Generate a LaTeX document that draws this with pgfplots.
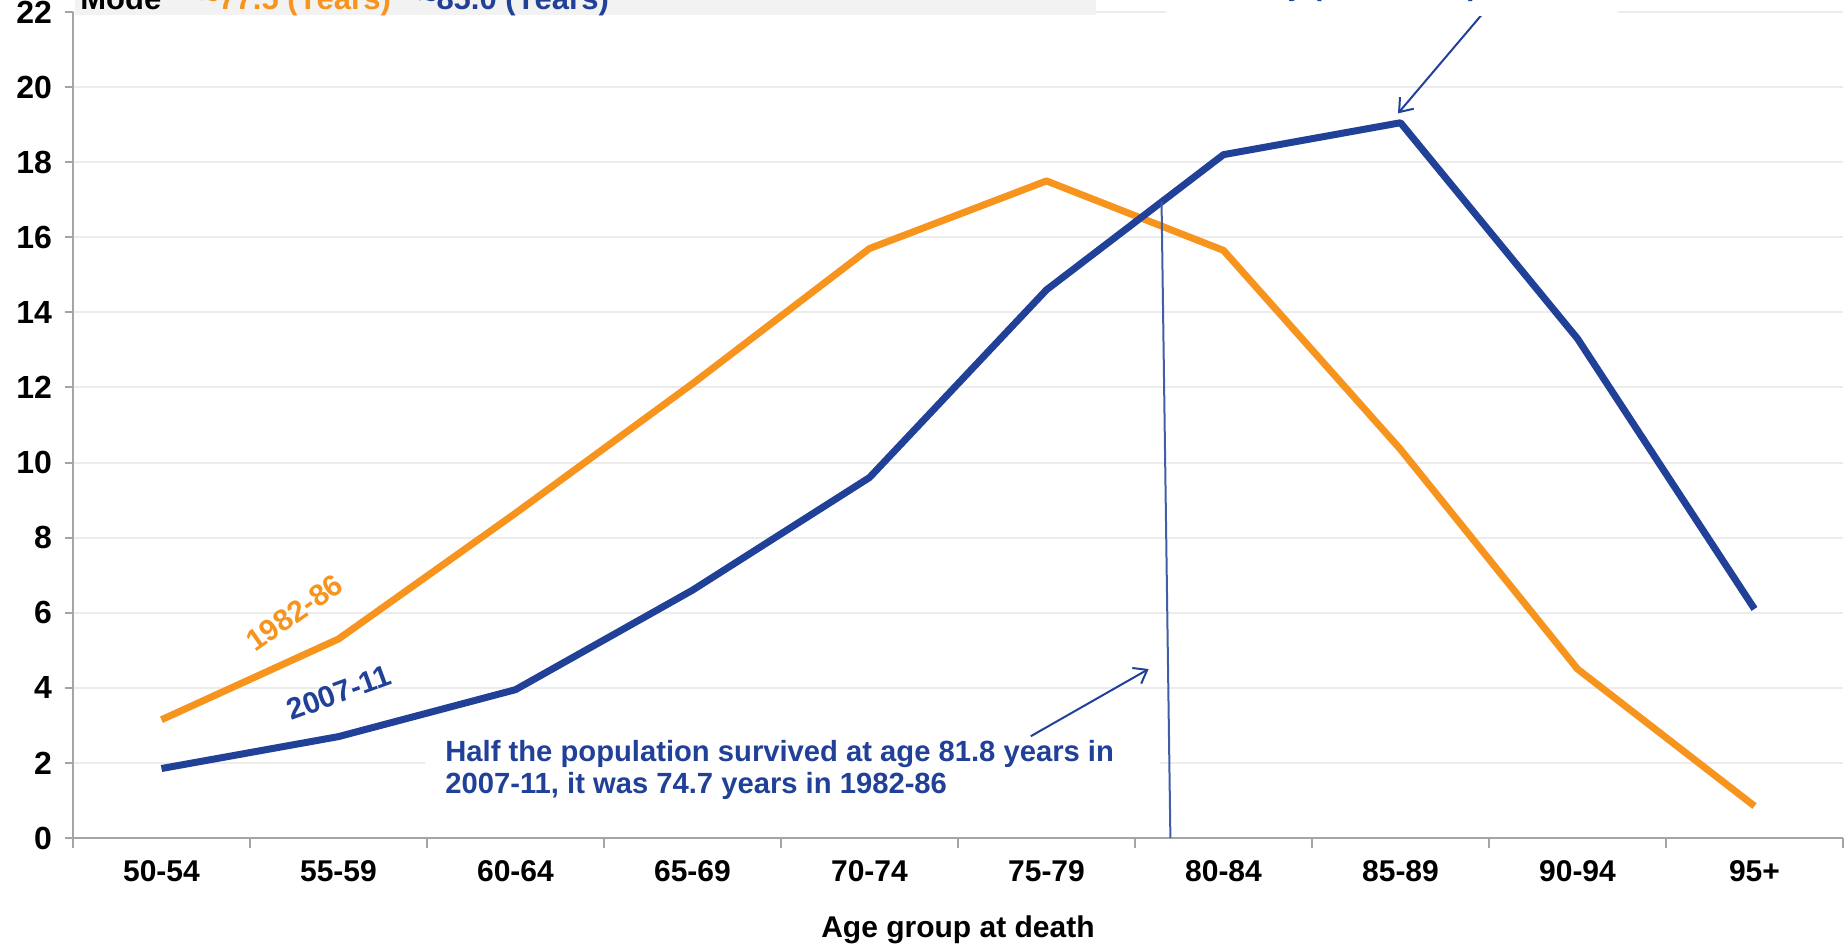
\documentclass[border=0pt]{standalone}
\usepackage{pgfplots}
\pgfplotsset{compat=1.18}
\usepackage{fontspec}
\setmainfont{Liberation Sans}
\usetikzlibrary{arrows.meta}
\definecolor{orng}{RGB}{247,148,30}
\definecolor{blu}{RGB}{33,64,152}
\definecolor{gridc}{RGB}{236,236,236}
\definecolor{axc}{RGB}{165,165,165}
\definecolor{boxc}{RGB}{242,242,242}
\begin{document}
\begin{tikzpicture}[x=1pt,y=1pt]
\begin{axis}[
  at={(36.5pt,53.5pt)}, anchor=south west,
  scale only axis, width=885pt, height=413pt,
  xmin=-0.5, xmax=9.5, ymin=0, ymax=22,
  axis x line*=bottom, axis y line*=left,
  ytick={0,2,...,22},
  xtick={0,...,9},
  xticklabels={50-54,55-59,60-64,65-69,70-74,75-79,80-84,85-89,90-94,95+},
  minor xtick={-0.5,0.5,...,9.5},
  major x tick style={draw=none},
  tick align=outside,
  minor tick length=5pt, major tick length=4pt,
  ymajorgrids, grid style={gridc, line width=1pt},
  axis line style={axc, line width=1pt},
  tick style={axc, line width=1pt},
  /pgf/number format/assume math mode=true,
  ticklabel style={text=black},
  xticklabel style={font=\fontsize{15}{16}\selectfont\bfseries, anchor=base, yshift=-18pt},
  yticklabel style={font=\fontsize{16}{17}\selectfont\bfseries, anchor=east, xshift=-3pt},
  xlabel={Age group at death},
  xlabel style={font=\fontsize{15}{17}\selectfont\bfseries, at={(axis description cs:0.5,0)}, anchor=base, yshift=-50pt},
  clip=false,
]
% white box behind annotation text
\fill[white] (axis cs:1.49,0.15) rectangle (axis cs:5.64,2.55);
\addplot[orng, line width=3.5pt, line join=round] coordinates {
 (0,3.15) (1,5.3) (2,8.65) (3,12.1) (4,15.7) (5,17.5) (6,15.65) (7,10.35) (8,4.5) (9,0.85)};
\addplot[blu, line width=3.5pt, line join=round] coordinates {
 (0,1.85) (1,2.7) (2,3.95) (3,6.6) (4,9.6) (5,14.6) (6,18.2) (7,19.05) (8,13.3) (9,6.1)};
\draw[blu!85!white, line width=1pt] (axis cs:5.65,16.95) -- (axis cs:5.70,0);
\draw[blu, line width=1pt, -{Straight Barb[length=6pt,width=9pt]}] (axis cs:4.911,2.71) -- (axis cs:5.577,4.50);
\draw[blu, line width=1pt, -{Straight Barb[length=6pt,width=9pt]}] (axis cs:7.49,22.1) -- (axis cs:6.986,19.3);
\node[orng, font=\fontsize{15}{16}\selectfont\bfseries, rotate=35] at (axis cs:0.751,6.0) {1982-86};
\node[blu, font=\fontsize{15}{16}\selectfont\bfseries, rotate=20] at (axis cs:1.003,3.87) {2007-11};
\end{axis}
% annotation text
\node[blu, font=\fontsize{14.6}{16}\selectfont\bfseries, align=left, anchor=west, inner sep=0pt] at (222.5,87.5)
 {Half the population survived at age 81.8 years in\\2007-11, it was 74.7 years in 1982-86};
% top-left partial table row
\fill[boxc] (37.5,465) rectangle (548,480);
\node[black, font=\fontsize{15.5}{16}\selectfont\bfseries, anchor=base west, inner sep=0pt] at (40,467.5) {Mode};
\node[orng, font=\fontsize{15.5}{16}\selectfont\bfseries, anchor=base west, inner sep=0pt] at (100,467.5) {\textasciitilde77.5 (Years)};
\node[blu, font=\fontsize{15.5}{16}\selectfont\bfseries, anchor=base west, inner sep=0pt] at (209,467.5) {\textasciitilde85.0 (Years)};
% top-right partial annotation
\fill[white] (583,464.5) rectangle (809,480);
\node[blu, font=\fontsize{14.8}{16}\selectfont\bfseries, anchor=base east, inner sep=0pt] at (739,474.5) {Mode shifted by (\textasciitilde7.5 Years)};
\pgfresetboundingbox
\useasboundingbox (0,0) rectangle (923.5,472.5);
\end{tikzpicture}
\end{document}
